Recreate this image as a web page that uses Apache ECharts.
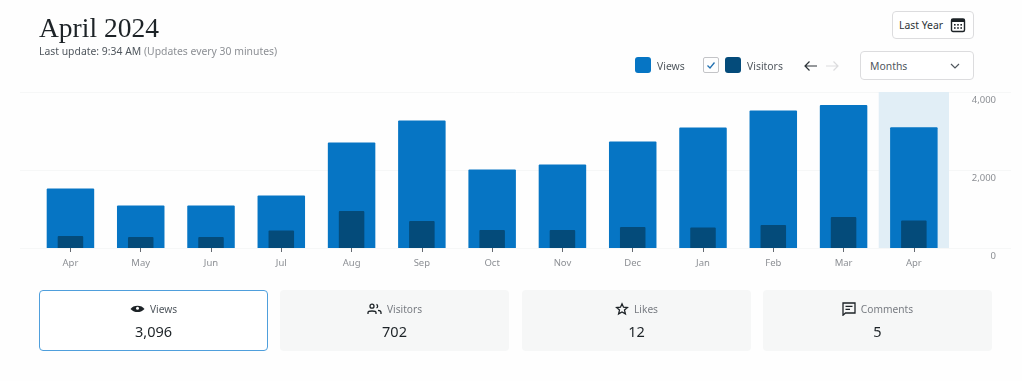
<!DOCTYPE html>
<html>
<head>
<meta charset="utf-8">
<style>
html, body { margin: 0; padding: 0; background: #fefefe; }
body { width: 1022px; height: 381px; overflow: hidden; position: relative; font-family: "Noto Sans", sans-serif; color: #2c3338; }
#chart { position: absolute; left: 0; top: 0; width: 1022px; height: 381px; }
.abs { position: absolute; white-space: nowrap; }
.title { left: 39px; top: 10px; font: 27.5px/36px "Liberation Serif", serif; color: #1d2327; }
.sub { left: 39px; top: 43px; font-size: 10.4px; line-height: 16px; color: #50575e; }
.sub span { color: #8c8f94; }
.btn { box-sizing: border-box; background: #fff; border: 1px solid #dcdcde; border-radius: 4px; font-size: 10.4px; }
.swatch { width: 16px; height: 16px; border-radius: 3px; }
.legend-text { font-size: 10.4px; line-height: 16px; color: #50575e; top: 58px; }
.card { box-sizing: border-box; top: 290px; width: 229px; height: 61px; border-radius: 4px; background: #f6f7f7; text-align: center; }
.card.on { background: #fff; border: 1px solid #4f9fdc; }
.card .lab { position: absolute; left: 0; right: 0; top: 11px; font-size: 10.2px; line-height: 16px; color: #787c82; }
.card.on .lab { color: #50575e; top: 10px; }
.card .lab svg { vertical-align: -3px; margin-right: 5px; }
.card .val { position: absolute; left: 0; right: 0; top: 30px; font-size: 14.5px; line-height: 22px; color: #1d2327; }
.card.on .val { top: 29px; }
</style>
</head>
<body>
<div id="chart"></div>

<div class="abs title">April 2024</div>
<div class="abs sub">Last update: 9:34 AM <span>(Updates every 30 minutes)</span></div>

<div class="abs btn" style="left:892px;top:11px;width:82px;height:28px;line-height:26px;padding-left:6px;">Last Year
  <svg class="abs" style="left:57px;top:5px" width="16" height="16" viewBox="0 0 16 16"><rect x="1.5" y="2" width="13" height="12.5" rx="1.5" fill="none" stroke="#1d2327" stroke-width="1.4"/><rect x="1.5" y="2" width="13" height="3" fill="#1d2327"/><g fill="#1d2327"><rect x="4" y="7" width="1.6" height="1.6"/><rect x="7.2" y="7" width="1.6" height="1.6"/><rect x="10.4" y="7" width="1.6" height="1.6"/><rect x="4" y="10.2" width="1.6" height="1.6"/><rect x="7.2" y="10.2" width="1.6" height="1.6"/><rect x="10.4" y="10.2" width="1.6" height="1.6"/></g></svg>
</div>

<div class="abs swatch" style="left:635px;top:57px;background:#0675c4"></div>
<div class="abs legend-text" style="left:657px">Views</div>
<div class="abs" style="left:703px;top:57px;width:16px;height:16px;box-sizing:border-box;border:1px solid #c3c4c7;border-radius:2px">
  <svg class="abs" style="left:0;top:0" width="14" height="14" viewBox="0 0 14 14"><path d="M3.5 7.5 L6 10 L10.5 4.5" fill="none" stroke="#2271b1" stroke-width="1.3"/></svg>
</div>
<div class="abs swatch" style="left:725px;top:57px;background:#044b7a"></div>
<div class="abs legend-text" style="left:747px">Visitors</div>

<svg class="abs" style="left:803px;top:60px" width="36" height="12" viewBox="0 0 36 12">
  <path d="M14 6 H2 M6.5 1.5 L2 6 L6.5 10.5" fill="none" stroke="#2c3338" stroke-width="1.2"/>
  <path d="M23 6 H35 M30.5 1.5 L35 6 L30.5 10.5" fill="none" stroke="#dcdcde" stroke-width="1.2"/>
</svg>

<div class="abs btn" style="left:860px;top:51px;width:114px;height:29px;line-height:29px;padding-left:9px;color:#50575e">Months
  <svg class="abs" style="left:88px;top:10px" width="12" height="8" viewBox="0 0 12 8"><path d="M2 2 L6 6 L10 2" fill="none" stroke="#50575e" stroke-width="1.2"/></svg>
</div>

<div id="cards"></div>

<script src="https://cdn.jsdelivr.net/npm/echarts@6/dist/echarts.min.js"></script>
<script>
var months = ['Apr', 'May', 'Jun', 'Jul', 'Aug', 'Sep', 'Oct', 'Nov', 'Dec', 'Jan', 'Feb', 'Mar', 'Apr'];
var views = [1525, 1090, 1090, 1346, 2705, 3270, 2013, 2141, 2730, 3090, 3525, 3667, 3096];
var visitors = [308, 282, 282, 450, 950, 690, 460, 460, 540, 525, 590, 795, 702];
var highlight = [null, null, null, null, null, null, null, null, null, null, null, null, 4000];

var cardNames = ['Views', 'Visitors', 'Likes', 'Comments'];
var cardValues = ['3,096', '702', '12', '5'];
var cardLeft = [39, 280, 522, 763];
var cardIcons = [
  '<svg width="15" height="14" viewBox="0 0 15 14"><path d="M0.5 7 C3 2.5 12 2.5 14.5 7 C12 9.5 10 10 7.5 10 C5 10 3 9.5 0.5 7Z" fill="#1d2327"/><circle cx="7.5" cy="6.2" r="1.5" fill="#fff"/></svg>',
  '<svg width="15" height="14" viewBox="0 0 15 14"><g fill="none" stroke="#1d2327" stroke-width="1.3"><circle cx="5" cy="4.2" r="2"/><path d="M1 12 V10.5 C1 8.5 9 8.5 9 10.5 V12"/><path d="M9.5 2.4 A2 2 0 0 1 9.5 6"/><path d="M11 8.4 C13 8.6 14 9.4 14 10.5 V12"/></g></svg>',
  '<svg width="14" height="14" viewBox="0 0 14 14"><path d="M7 1.8 L8.5 5.2 L12.4 5.6 L9.5 8.1 L10.4 11.9 L7 9.9 L3.6 11.9 L4.5 8.1 L1.6 5.6 L5.5 5.2 Z" fill="none" stroke="#1d2327" stroke-width="1.3"/></svg>',
  '<svg width="14" height="14" viewBox="0 0 14 14"><path d="M1 1 H13 V11 H3.5 L1 13.2 Z" fill="none" stroke="#1d2327" stroke-width="1.3"/><path d="M3.5 4.4 H10.5 M3.5 7.4 H8" stroke="#1d2327" stroke-width="1.2"/></svg>'
];

var html = '';
for (var i = 0; i < cardNames.length; i++) {
  html += '<div class="abs card' + (i == 0 ? ' on' : '') + '" style="left:' + cardLeft[i] + 'px">' +
    '<div class="lab">' + cardIcons[i] + cardNames[i] + '</div>' +
    '<div class="val">' + cardValues[i] + '</div></div>';
}
document.getElementById('cards').innerHTML = html;

var chart = echarts.init(document.getElementById('chart'), null, { renderer: 'canvas' });

function hiddenX(gridIndex) {
  return { type: 'category', gridIndex: gridIndex, data: months, show: false };
}

var option = {
  animation: false,
  grid: [
    // wide grid only carries the gridlines and value labels
    { left: 20, top: 92, width: 991, height: 156 },
    { left: 35.3, top: 92, width: 913.7, height: 156 }
  ],
  xAxis: [
    { type: 'category', gridIndex: 0, data: [], show: false },
    {
      type: 'category',
      gridIndex: 1,
      data: months,
      axisLine: { show: true, lineStyle: { color: 'transparent' } },
      axisTick: { show: true, alignWithLabel: true, length: 4, lineStyle: { color: '#646970', width: 1 } },
      axisLabel: { color: '#8c8f94', fontSize: 9.5, fontFamily: 'Noto Sans', margin: 10 }
    },
    hiddenX(1),
    hiddenX(1)
  ],
  yAxis: [
    {
      type: 'value',
      gridIndex: 0,
      position: 'right',
      min: 0,
      max: 4000,
      interval: 2000,
      axisLine: { show: false },
      axisTick: { show: false },
      splitLine: { show: true, lineStyle: { color: '#f6f7f7', width: 1 } },
      axisLabel: {
        inside: true,
        margin: 15,
        align: 'right',
        verticalAlign: 'top',
        padding: [3, 0, 0, 0],
        color: '#8c8f94',
        fontSize: 9.5,
        fontFamily: 'Noto Sans',
        formatter: function (v) { return v.toLocaleString('en-US'); }
      }
    },
    { type: 'value', gridIndex: 1, min: 0, max: 4000, interval: 2000, show: false }
  ],
  series: [
    {
      name: 'Current',
      type: 'bar',
      xAxisIndex: 3,
      yAxisIndex: 1,
      data: highlight,
      barWidth: '100%',
      itemStyle: { color: '#e1eef6' },
      z: 1
    },
    {
      name: 'Views',
      type: 'bar',
      xAxisIndex: 1,
      yAxisIndex: 1,
      data: views,
      barWidth: 47.5,
      itemStyle: { color: '#0675c4', borderRadius: [1, 1, 0, 0] },
      z: 2
    },
    {
      name: 'Visitors',
      type: 'bar',
      xAxisIndex: 2,
      yAxisIndex: 1,
      data: visitors,
      barWidth: 25.5,
      itemStyle: { color: '#044b7a', borderRadius: [1, 1, 0, 0] },
      z: 3
    }
  ]
};

chart.setOption(option);
</script>
</body>
</html>
